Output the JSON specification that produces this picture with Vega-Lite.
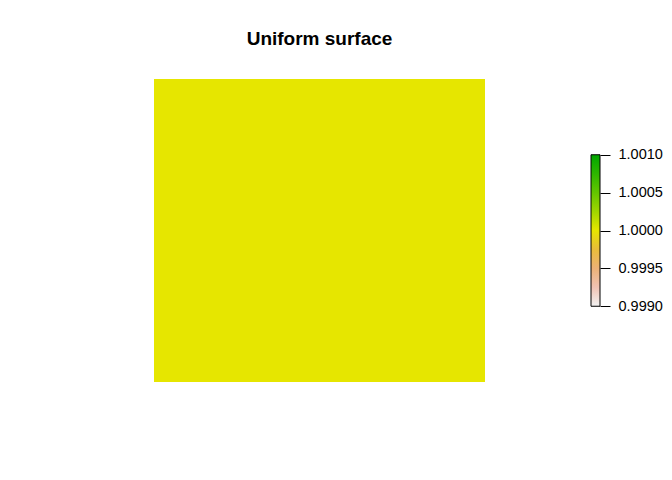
{
  "$schema": "https://vega.github.io/schema/vega-lite/v6.json",
  "background": "white",
  "padding": {"left": 154, "top": 30, "right": 5, "bottom": 5},
  "config": {
    "view": {"stroke": null},
    "font": "Liberation Sans"
  },
  "datasets": {
    "surface": [{"x0": 0, "x1": 1, "y0": 0, "y1": 1, "z": 1}],
    "bar": [{"lo": 0.999, "hi": 1.001}]
  },
  "spacing": 105,
  "hconcat": [
    {
      "title": {
        "text": "Uniform surface",
        "font": "Liberation Sans",
        "fontSize": 19,
        "fontWeight": "bold",
        "color": "black",
        "anchor": "middle",
        "baseline": "top",
        "offset": 30
      },
      "width": 331,
      "height": 303,
      "data": {"name": "surface"},
      "mark": {"type": "rect"},
      "encoding": {
        "x": {"field": "x0", "type": "quantitative", "axis": null, "scale": {"domain": [0, 1], "nice": false}},
        "x2": {"field": "x1"},
        "y": {"field": "y0", "type": "quantitative", "axis": null, "scale": {"domain": [0, 1], "nice": false}},
        "y2": {"field": "y1"},
        "color": {
          "field": "z",
          "type": "quantitative",
          "legend": null,
          "scale": {
            "domain": [0.999, 0.99925, 0.9995, 0.99975, 1, 1.00025, 1.0005, 1.00075, 1.001],
            "range": ["#F2F2F2", "#EFC2B3", "#ECB176", "#E9BD3A", "#E6E600", "#A0D600", "#63C600", "#2DB600", "#00A600"]
          }
        }
      }
    },
    {
      "width": 9,
      "height": 303,
      "data": {"name": "bar"},
      "mark": {
        "type": "rect",
        "stroke": "black",
        "strokeWidth": 1,
        "fill": {
          "gradient": "linear",
          "x1": 0, "y1": 1, "x2": 0, "y2": 0,
          "stops": [
            {"offset": 0, "color": "#F2F2F2"},
            {"offset": 0.125, "color": "#EFC2B3"},
            {"offset": 0.25, "color": "#ECB176"},
            {"offset": 0.375, "color": "#E9BD3A"},
            {"offset": 0.5, "color": "#E6E600"},
            {"offset": 0.625, "color": "#A0D600"},
            {"offset": 0.75, "color": "#63C600"},
            {"offset": 0.875, "color": "#2DB600"},
            {"offset": 1, "color": "#00A600"}
          ]
        }
      },
      "encoding": {
        "y": {
          "field": "lo",
          "type": "quantitative",
          "scale": {"domain": [0.998, 1.002], "nice": false, "zero": false},
          "axis": {
            "orient": "right",
            "title": null,
            "values": [0.999, 0.9995, 1, 1.0005, 1.001],
            "format": ".4f",
            "domain": false,
            "grid": false,
            "ticks": true,
            "tickColor": "black",
            "tickSize": 10,
            "tickWidth": 1,
            "labelPadding": 8,
            "labelFont": "Liberation Sans",
            "labelFontSize": 14.5,
            "labelColor": "black",
            "labelBaseline": "middle"
          }
        },
        "y2": {"field": "hi"}
      }
    }
  ]
}
